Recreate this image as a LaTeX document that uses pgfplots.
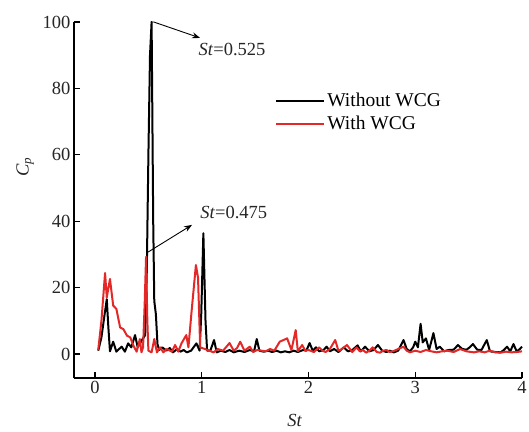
\documentclass[border=0pt]{standalone}
\usepackage{pgfplots}
\pgfplotsset{compat=1.18}
\usepackage{fontspec}
\setmainfont{Liberation Serif}
\usetikzlibrary{arrows.meta}
\definecolor{myred}{RGB}{228,40,40}
\pgfplotstableread{
x y
0.03 1
0.06 5
0.09 12
0.11 16.5
0.125 8
0.14 0.8
0.17 3.7
0.20 0.7
0.225 1.5
0.25 2.2
0.28 0.7
0.31 3.2
0.34 2
0.375 5.7
0.40 2
0.44 4.2
0.47 5.7
0.485 25
0.50 60
0.515 90
0.53 100
0.545 40
0.555 16
0.57 12
0.585 3
0.60 1.2
0.63 2
0.67 1
0.70 1.8
0.73 0.5
0.77 1.5
0.80 0.7
0.83 1.2
0.86 0.5
0.90 1
0.95 3.2
0.98 1
0.995 12
1.015 36.4
1.035 10
1.05 1
1.08 1
1.115 4.2
1.14 0.5
1.18 1
1.22 0.6
1.26 1.2
1.30 0.5
1.35 1
1.40 0.6
1.45 1.2
1.49 0.8
1.515 4.5
1.54 1
1.58 0.7
1.62 1
1.66 0.6
1.70 1
1.74 0.5
1.78 0.8
1.82 0.5
1.86 1
1.90 0.6
1.95 1.2
1.98 1
2.01 3.3
2.04 1
2.07 2
2.10 0.8
2.14 1.2
2.17 2.2
2.20 0.8
2.24 1.5
2.28 0.6
2.33 2
2.37 0.8
2.41 1.2
2.46 2.6
2.49 0.8
2.53 2.2
2.57 0.8
2.61 1.2
2.65 2.7
2.69 1
2.73 0.6
2.76 1
2.80 0.5
2.84 1
2.89 4.2
2.92 1.5
2.95 0.8
2.98 2
3.0 3.7
3.025 2
3.05 9.1
3.07 3.5
3.10 4.7
3.13 1.2
3.17 6.3
3.20 1.5
3.23 2.2
3.27 0.8
3.31 1.2
3.36 1.3
3.40 2.7
3.44 1.5
3.48 1.3
3.51 2
3.54 3
3.58 1.3
3.62 1.2
3.67 4.2
3.70 0.8
3.75 0.6
3.80 0.5
3.83 1.2
3.86 2.2
3.89 0.8
3.92 3
3.95 0.8
3.98 1.5
4.0 2.2
}\without
\pgfplotstableread{
x y
0.03 1.2
0.06 10
0.094 24.4
0.11 17
0.14 22.6
0.17 14.6
0.20 13.6
0.235 8
0.265 7.5
0.30 5.5
0.33 5
0.36 2.5
0.39 0.7
0.42 4.5
0.435 0.5
0.45 2
0.465 15
0.478 29.3
0.49 10
0.50 1
0.53 0.5
0.555 4.5
0.58 0.5
0.61 2
0.64 0.5
0.67 1.5
0.72 0.7
0.75 2.7
0.78 0.7
0.81 3.2
0.855 5.7
0.875 2
0.905 13
0.945 26.8
0.965 23
0.985 2
1.03 1.5
1.07 1
1.11 0.5
1.15 1.5
1.2 1
1.26 3.3
1.3 1
1.33 1.8
1.36 3.7
1.4 1
1.45 2.2
1.48 0.6
1.52 1.2
1.56 1
1.6 0.8
1.64 1.5
1.68 1
1.73 3.7
1.8 4.7
1.84 1.2
1.88 7.2
1.9 0.8
1.94 2.7
1.97 1
2.0 1.2
2.05 0.6
2.1 2
2.13 1
2.16 0.6
2.2 1.5
2.25 4.2
2.28 1
2.3 1.2
2.36 2.7
2.41 0.6
2.45 2
2.48 0.8
2.51 1.2
2.54 0.4
2.57 1
2.6 2
2.64 0.6
2.67 0.4
2.7 1
2.73 1.2
2.76 0.6
2.79 0.8
2.84 1.5
2.89 2.2
2.92 1
2.95 0.5
3.0 1
3.05 0.6
3.1 1.2
3.15 0.8
3.2 0.5
3.25 0.8
3.3 1
3.36 0.6
3.42 1.5
3.48 0.8
3.55 0.5
3.6 0.8
3.65 0.5
3.7 1
3.75 0.5
3.8 0.4
3.85 0.7
3.9 0.5
3.95 0.6
4.0 0.8
}\withwcg
\begin{document}
\begin{tikzpicture}
\useasboundingbox (-74pt,-53pt) rectangle (455pt,378pt);
\begin{axis}[
  at={(0pt,0pt)}, anchor=south west,
  scale only axis, width=448pt, height=356pt,
  xmin=-0.197, xmax=4, ymin=-7.23, ymax=100,
  axis x line*=bottom, axis y line*=left,
  axis line style={line width=1.2pt, -},
  tick align=inside, major tick length=6pt,
  tick style={line width=1.2pt, black},
  xtick={0,1,2,3,4}, ytick={0,20,40,60,80,100},
  minor tick num=0,
  every tick label/.append style={font=\fontsize{18.5}{21}\selectfont, text=black!85},
  /pgf/number format/assume math mode=true,
  xlabel={\textit{St}}, ylabel={\textit{C}\textsubscript{\textit{p}}},
  label style={font=\fontsize{18.5}{21}\selectfont, text=black!85},
  xlabel style={at={(axis description cs:0.493,-0.118)}, anchor=center, inner sep=1pt},
  ylabel style={at={(axis description cs:-0.109,0.593)}, anchor=center, rotate=0},
  legend style={draw=none, fill=none, at={(axis description cs:0.449,0.806)}, anchor=north west,
    font=\fontsize{19.5}{21}\selectfont, inner sep=0pt, row sep=4pt, cells={anchor=west}},
  legend image code/.code={\draw[#1] (0pt,0pt) -- (48pt,0pt);},
  clip=false,
]
\addplot[black, line width=2pt, line join=round] table[x=x,y=y] {\without};
\addlegendentry{Without WCG}
\addplot[myred, line width=2pt, line join=round] table[x=x,y=y] {\withwcg};
\addlegendentry{With WCG}
\draw[line width=0.9pt, -{Stealth[length=8pt,width=6pt]}] (axis cs:0.52,100) -- (axis cs:0.55,100) -- (axis cs:0.984,95.2);
\node[font=\fontsize{18.5}{21}\selectfont, text=black!85] at (axis cs:1.283,91.6) {\textit{St}=0.525};
\draw[line width=0.9pt, -{Stealth[length=8pt,width=6pt]}] (axis cs:0.497,30.7) -- (axis cs:0.909,38.9);
\node[font=\fontsize{18.5}{21}\selectfont, text=black!85] at (axis cs:1.30,42.5) {\textit{St}=0.475};
\end{axis}
\end{tikzpicture}
\end{document}
